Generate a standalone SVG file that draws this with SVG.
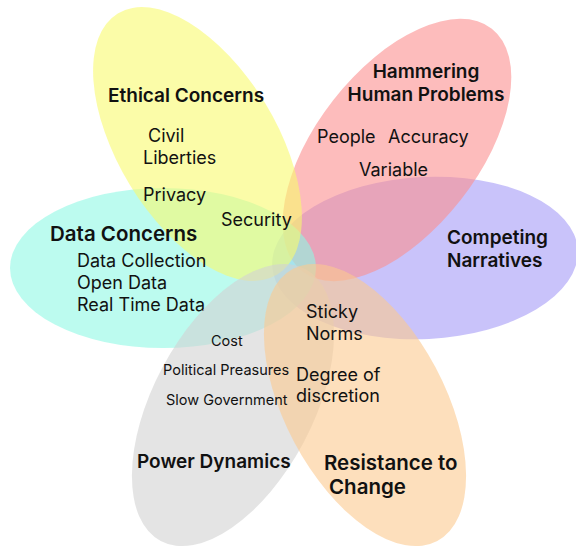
<svg xmlns="http://www.w3.org/2000/svg" width="576" height="547" viewBox="0 0 576 547">
  <style>
    .petal { fill-opacity: 0.6; }
    text { font-family: Inter, "Noto Sans", "Liberation Sans", sans-serif; fill: #111111; }
    .title { font-size: 19px; font-weight: 600; }
    .title-lg { font-size: 20.5px; font-weight: 600; }
    .item { font-size: 18px; font-weight: 400; }
    .small { font-size: 14.5px; font-weight: 400; }
  </style>
  <rect width="576" height="547" fill="#ffffff"/>

  <!-- upper petals -->
  <g id="petals-upper">
    <ellipse id="petal-competing" class="petal" cx="425" cy="258" rx="153" ry="81" fill="#a59bf7" transform="rotate(-3 425 258)"/>
    <ellipse id="petal-hammering" class="petal" cx="397" cy="150" rx="154" ry="81" fill="#fc8f8f" transform="rotate(-52 397 150)"/>
    <ellipse id="petal-data" class="petal" cx="163" cy="268" rx="153" ry="80" fill="#8ff8e4"/>
    <ellipse id="petal-ethical" class="petal" cx="197.5" cy="144" rx="153" ry="79" fill="#f8fa6e" transform="rotate(58.6 197.5 144)"/>
  </g>

  <!-- Data Concerns labels (sit beneath the lower petals) -->
  <g id="labels-data">
    <text class="title-lg" x="50" y="241">Data Concerns</text>
    <text class="item" x="77" y="267">Data Collection</text>
    <text class="item" x="77" y="289">Open Data</text>
    <text class="item" x="77" y="311">Real Time Data</text>
  </g>

  <!-- lower petals -->
  <g id="petals-lower">
    <ellipse id="petal-power" class="petal" cx="233" cy="405" rx="154" ry="80" fill="#d2d2d2" transform="rotate(-62 233 405)"/>
    <ellipse id="petal-resistance" class="petal" cx="365" cy="405" rx="154" ry="80" fill="#fcca8f" transform="rotate(62 365 405)"/>
  </g>

  <g id="labels-ethical">
    <text class="title" x="108" y="102">Ethical Concerns</text>
    <text class="item" x="148" y="142">Civil</text>
    <text class="item" x="143" y="164">Liberties</text>
    <text class="item" x="143" y="201">Privacy</text>
    <text class="item" x="221" y="226">Security</text>
  </g>

  <g id="labels-hammering">
    <text class="title" x="426" y="78" text-anchor="middle">Hammering</text>
    <text class="title" x="426" y="101" text-anchor="middle">Human Problems</text>
    <text class="item" x="317" y="143">People</text>
    <text class="item" x="388" y="143">Accuracy</text>
    <text class="item" x="359" y="176">Variable</text>
  </g>

  <g id="labels-competing">
    <text class="title" x="447" y="244">Competing</text>
    <text class="title" x="447" y="267">Narratives</text>
  </g>

  <g id="labels-power">
    <text class="small" x="211" y="346">Cost</text>
    <text class="small" x="163" y="375">Political Preasures</text>
    <text class="small" x="166" y="405">Slow Government</text>
    <text class="title" x="137" y="468">Power Dynamics</text>
  </g>

  <g id="labels-resistance">
    <text class="item" x="306" y="318">Sticky</text>
    <text class="item" x="306" y="340">Norms</text>
    <text class="item" x="296" y="381">Degree of</text>
    <text class="item" x="296" y="402">discretion</text>
    <text class="title-lg" x="324" y="470">Resistance to</text>
    <text class="title-lg" x="329" y="494">Change</text>
  </g>
</svg>
